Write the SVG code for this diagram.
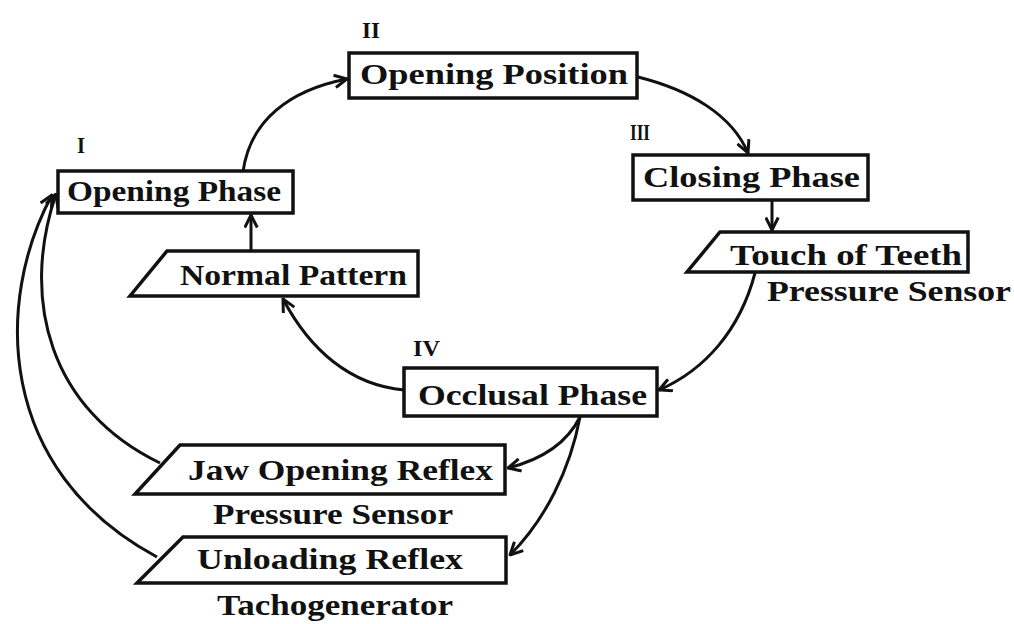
<svg xmlns="http://www.w3.org/2000/svg" width="1014" height="624" viewBox="0 0 1014 624">
<style>
.box{fill:#fff;stroke:#111;stroke-width:3.5}
.t{font-family:"Liberation Serif","Times New Roman",serif;font-size:30px;font-weight:bold;fill:#111}
.n{font-family:"Liberation Serif","Times New Roman",serif;font-size:24px;font-weight:bold;fill:#111}
.c{fill:none;stroke:#111;stroke-width:3}
</style>
<defs>
<marker id="ah" viewBox="0 0 12 12" refX="11" refY="6" markerWidth="5" markerHeight="5" orient="auto" markerUnits="strokeWidth">
<path d="M1,1 L11,6 L1,11" fill="none" stroke="#111" stroke-width="2.4"/>
</marker>
</defs>
<rect width="1014" height="624" fill="#fff"/>
<g id="connectors">
<path class="c" marker-end="url(#ah)" d="M243,172 C250,120 290,90 347,79"/>
<path class="c" marker-end="url(#ah)" d="M638,77 C690,90 732,115 748,153"/>
<path class="c" marker-end="url(#ah)" d="M772,201 L772,230"/>
<path class="c" marker-end="url(#ah)" d="M755,273 C740,330 705,370 659,390"/>
<path class="c" marker-end="url(#ah)" d="M404,390 C350,385 310,350 283,299"/>
<path class="c" marker-end="url(#ah)" d="M251,251 L251,215"/>
<path class="c" marker-end="url(#ah)" d="M580,417 C566,445 540,460 508,468"/>
<path class="c" marker-end="url(#ah)" d="M580,417 C570,470 545,520 510,555"/>
<path class="c" marker-end="url(#ah)" d="M160,463 C50,410 20,300 56,194"/>
<path class="c" marker-end="url(#ah)" d="M157,557 C-5,470 -5,300 52,195"/>
</g>
<g id="n-opening-position">
<rect class="box" x="349" y="53" width="288" height="45"/>
<text class="t" x="360" y="84" textLength="268" lengthAdjust="spacingAndGlyphs">Opening Position</text>
<text class="n" x="362" y="38" textLength="18" lengthAdjust="spacingAndGlyphs">II</text>
</g>
<g id="n-opening-phase">
<rect class="box" x="58" y="171" width="235" height="42"/>
<text class="t" x="67" y="201" textLength="214" lengthAdjust="spacingAndGlyphs">Opening Phase</text>
<text class="n" x="77" y="153" textLength="8" lengthAdjust="spacingAndGlyphs">I</text>
</g>
<g id="n-closing-phase">
<rect class="box" x="633" y="155" width="235" height="45"/>
<text class="t" x="643" y="187" textLength="217" lengthAdjust="spacingAndGlyphs">Closing Phase</text>
<text class="n" x="630" y="140" textLength="20" lengthAdjust="spacingAndGlyphs">III</text>
</g>
<g id="n-touch-of-teeth">
<path class="box" d="M720,232 L968,232 L968,272 L687,272 Z"/>
<text class="t" x="730" y="265" textLength="232" lengthAdjust="spacingAndGlyphs">Touch of Teeth</text>
<text class="t" x="767" y="301" textLength="244" lengthAdjust="spacingAndGlyphs">Pressure Sensor</text>
</g>
<g id="n-normal-pattern">
<path class="box" d="M167,251 L418,251 L418,296 L130,296 Z"/>
<text class="t" x="180" y="285" textLength="227" lengthAdjust="spacingAndGlyphs">Normal Pattern</text>
</g>
<g id="n-occlusal-phase">
<rect class="box" x="404" y="368" width="253" height="48"/>
<text class="t" x="418" y="405" textLength="229" lengthAdjust="spacingAndGlyphs">Occlusal Phase</text>
<text class="n" x="413" y="356" textLength="27" lengthAdjust="spacingAndGlyphs">IV</text>
</g>
<g id="n-jaw-opening-reflex">
<path class="box" d="M180,445 L505,445 L505,494 L135,494 Z"/>
<text class="t" x="188" y="480" textLength="305" lengthAdjust="spacingAndGlyphs">Jaw Opening Reflex</text>
<text class="t" x="213" y="524" textLength="240" lengthAdjust="spacingAndGlyphs">Pressure Sensor</text>
</g>
<g id="n-unloading-reflex">
<path class="box" d="M183,537 L506,537 L506,583 L137,583 Z"/>
<text class="t" x="197" y="569" textLength="266" lengthAdjust="spacingAndGlyphs">Unloading Reflex</text>
<text class="t" x="217" y="615" textLength="236" lengthAdjust="spacingAndGlyphs">Tachogenerator</text>
</g>
</svg>
